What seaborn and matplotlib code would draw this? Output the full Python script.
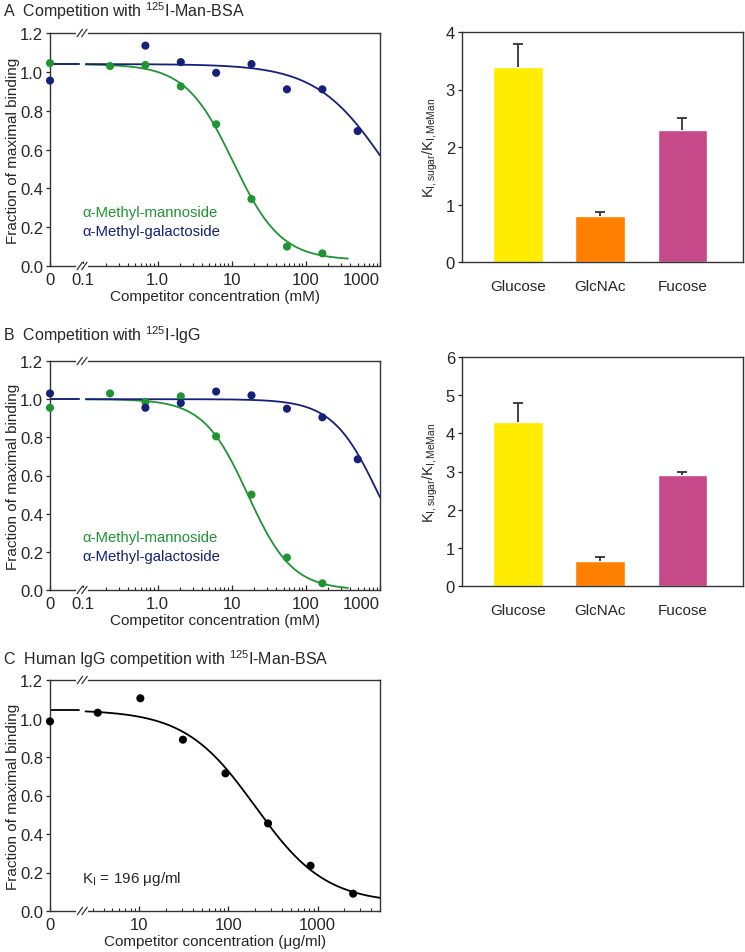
import numpy as np
import matplotlib
matplotlib.use("Agg")
from matplotlib import pyplot as plt
from matplotlib.ticker import FixedLocator, NullFormatter, FormatStrFormatter
import seaborn as sns

# ---- panels A/B, left: sugar competition (mM, 3-fold dilutions, 0 = none)
a_man_x = [0, 0.229, 0.686, 2.06, 6.17, 18.5, 55.6, 167]
a_man_y = [1.045, 1.03, 1.035, 0.925, 0.73, 0.345, 0.10, 0.065]
a_gal_x = [0, 0.686, 2.06, 6.17, 18.5, 55.6, 167, 500]
a_gal_y = [0.955, 1.135, 1.05, 0.995, 1.04, 0.91, 0.91, 0.695]

b_man_x = [0, 0.229, 0.686, 2.06, 6.17, 18.5, 55.6, 167]
b_man_y = [0.955, 1.03, 0.985, 1.015, 0.805, 0.50, 0.17, 0.035]
b_gal_x = [0, 0.686, 2.06, 6.17, 18.5, 55.6, 167, 500]
b_gal_y = [1.03, 0.955, 0.98, 1.04, 1.02, 0.95, 0.905, 0.685]

# fitted curves: top, bottom, IC50, hill, x end
a_man_fit = (1.04, 0.03, 10.5, 1.35, 370)
a_gal_fit = (1.04, 0.0, 1230, 0.92, 1000)
b_man_fit = (1.0, 0.0, 16.5, 1.45, 370)
b_gal_fit = (1.0, 0.0, 960, 1.4, 1000)

# ---- panels A/B, right: KI ratios
sugars = ["Glucose", "GlcNAc", "Fucose"]
a_ratio = [3.4, 0.8, 2.3]
a_err = [0.4, 0.07, 0.2]
b_ratio = [4.3, 0.65, 2.9]
b_err = [0.5, 0.1, 0.1]
bar_colors = ["#FFEC00", "#FF7F00", "#C54A87"]

# ---- panel C: human IgG (ug/ml)
c_x = [0, 3.43, 10.3, 30.9, 92.6, 278, 833, 2500]
c_y = [0.985, 1.03, 1.105, 0.89, 0.715, 0.455, 0.235, 0.09]
c_fit = (1.045, 0.04, 200, 1.1, 5000)

GREEN = "#1E9433"
NAVY = "#15207A"
DARK = "#333333"

sns.set_style("ticks")
plt.rcParams["font.family"] = ["Liberation Sans", "DejaVu Sans"]
plt.rcParams["mathtext.fontset"] = "custom"
plt.rcParams["mathtext.rm"] = "Liberation Sans"
plt.rcParams["mathtext.it"] = "Liberation Sans:italic"
plt.rcParams["font.size"] = 11
plt.rcParams["axes.edgecolor"] = DARK
plt.rcParams["axes.linewidth"] = 1.0


def zero_scale(zero_pos):
    def fwd(x):
        x = np.asarray(x, dtype=float)
        return np.log10(np.maximum(x, 10.0 ** zero_pos))

    def inv(y):
        return 10.0 ** np.asarray(y, dtype=float)
    return fwd, inv


def logistic(x, fit):
    top, bottom, ic50, hill, _ = fit
    return bottom + (top - bottom) / (1 + (x / ic50) ** hill)


def axis_break(ax, xb):
    xa = ax.transAxes.inverted().transform(ax.transData.transform((xb, 0.5)))[0]
    for y0 in (0, 1):
        ax.plot([xa - 0.012, xa + 0.012], [y0, y0], transform=ax.transAxes,
                color="white", lw=3, clip_on=False, zorder=5)
        for dx in (-0.007, 0.007):
            ax.plot([xa + dx - 0.008, xa + dx + 0.008], [y0 - 0.016, y0 + 0.016],
                    transform=ax.transAxes, color=DARK, lw=0.9,
                    clip_on=False, zorder=6)


def dose_panel(ax, series, zero_pos, xmax, ticks, ticklabels, minors,
               plateau_end, curve_start, xb, xlabel, last_right=False):
    ax.set_xscale("function", functions=zero_scale(zero_pos))
    ax.set_xlim(0, xmax)
    ax.set_ylim(0, 1.2)
    for xs, ys, fit, col in series:
        top = fit[0]
        sns.lineplot(x=[0, plateau_end], y=[top, top], color=col, lw=1.3,
                     ax=ax, estimator=None)
        xc = np.logspace(np.log10(curve_start), np.log10(fit[4]), 200)
        sns.lineplot(x=xc, y=logistic(xc, fit), color=col, lw=1.3, ax=ax,
                     estimator=None, sort=False)
        sns.scatterplot(x=xs, y=ys, color=col, s=34, edgecolor="none",
                        ax=ax, clip_on=False, zorder=7)
    ax.xaxis.set_major_locator(FixedLocator(ticks))
    ax.set_xticklabels(ticklabels)
    if last_right:
        ax.get_xticklabels()[-1].set_horizontalalignment("right")
    ax.xaxis.set_minor_locator(FixedLocator(minors))
    ax.xaxis.set_minor_formatter(NullFormatter())
    ax.set_yticks(np.arange(0, 1.21, 0.2))
    ax.yaxis.set_major_formatter(FormatStrFormatter("%.1f"))
    ax.tick_params(axis="x", which="major", direction="in", length=3.5,
                   width=0.9, pad=4)
    ax.tick_params(axis="x", which="minor", direction="in", length=2.5,
                   width=0.8)
    ax.tick_params(axis="y", direction="out", length=3, width=0.9, pad=2)
    ax.tick_params(labelsize=12)
    ax.set_xlabel(xlabel, fontsize=11, labelpad=2)
    ax.set_ylabel("Fraction of maximal binding", fontsize=11, labelpad=0)
    axis_break(ax, xb)


def bar_panel(ax, ratio, err, ymax):
    sns.barplot(x=sugars, y=ratio, hue=sugars, palette=bar_colors,
                legend=False, width=0.6, ax=ax, saturation=1)
    pos = np.arange(len(sugars))
    tops = np.array(ratio) + np.array(err)
    ax.vlines(pos, ratio, tops, color=DARK, lw=1.3, zorder=3)
    ax.hlines(tops, pos - 0.06, pos + 0.06, color=DARK, lw=1.3, zorder=3)
    ax.set_xlim(-0.68, 2.74)
    ax.set_ylim(0, ymax)
    ax.set_yticks(range(0, ymax + 1))
    ax.tick_params(axis="x", length=0, pad=12)
    ax.tick_params(axis="y", direction="out", length=3, width=0.9, pad=2)
    ax.tick_params(axis="y", labelsize=12)
    ax.tick_params(axis="x", labelsize=11)
    ax.set_xlabel("")
    ax.set_ylabel(r"K$_{\mathrm{I,sugar}}$/K$_{\mathrm{I,MeMan}}$",
                  fontsize=10.5, labelpad=4)


fig = plt.figure(figsize=(7.45, 9.53), dpi=100)
W, H = 745.0, 953.0


def add_axes(x0, y0, x1, y1):
    return fig.add_axes([x0 / W, 1 - y1 / H, (x1 - x0) / W, (y1 - y0) / H])


mm_ticks = [0, 0.1, 1, 10, 100, 1000]
mm_labels = ["0", "0.1", "1.0", "10", "100", "1000"]
mm_minor = [m * d for d in (0.1, 1, 10, 100) for m in range(2, 10)]

axA = add_axes(50, 34, 380, 267)
dose_panel(axA, [(a_man_x, a_man_y, a_man_fit, GREEN),
                 (a_gal_x, a_gal_y, a_gal_fit, NAVY)],
           -1.45, 1000, mm_ticks, mm_labels, mm_minor, 0.087, 0.108, 0.096,
           "Competitor concentration (mM)", last_right=True)
axA.text(0.097, 0.28, "α-Methyl-mannoside", color=GREEN, fontsize=10.7,
         transform=axA.get_yaxis_transform(), va="center")
axA.text(0.097, 0.178, "α-Methyl-galactoside", color=NAVY, fontsize=10.7,
         transform=axA.get_yaxis_transform(), va="center")

axB = add_axes(50, 362, 380, 591)
dose_panel(axB, [(b_man_x, b_man_y, b_man_fit, GREEN),
                 (b_gal_x, b_gal_y, b_gal_fit, NAVY)],
           -1.45, 1000, mm_ticks, mm_labels, mm_minor, 0.087, 0.108, 0.096,
           "Competitor concentration (mM)", last_right=True)
axB.text(0.097, 0.28, "α-Methyl-mannoside", color=GREEN, fontsize=10.7,
         transform=axB.get_yaxis_transform(), va="center")
axB.text(0.097, 0.176, "α-Methyl-galactoside", color=NAVY, fontsize=10.7,
         transform=axB.get_yaxis_transform(), va="center")

axA2 = add_axes(462, 33, 743, 263)
bar_panel(axA2, a_ratio, a_err, 4)
axB2 = add_axes(462, 358, 743, 587)
bar_panel(axB2, b_ratio, b_err, 6)

ug_ticks = [0, 10, 100, 1000]
ug_labels = ["0", "10", "100", "1000"]
ug_minor = [m * d for d in (1, 10, 100, 1000) for m in range(2, 10)
            if 2.5 < m * d <= 5000]
axC = add_axes(50, 681, 380, 912)
dose_panel(axC, [(c_x, c_y, c_fit, "black")],
           0.0, 5000, ug_ticks, ug_labels, ug_minor, 2.14, 2.5, 2.3,
           "Competitor concentration (μg/ml)")
axC.text(0.097, 0.17, r"K$_{\mathrm{I}}$ = 196 μg/ml", fontsize=11,
         transform=axC.get_yaxis_transform(), va="center")

fig.text(0.004, 1 - 11 / H, r"A  Competition with $^{125}$I-Man-BSA",
         fontsize=11.5, va="center")
fig.text(0.004, 1 - 335 / H, r"B  Competition with $^{125}$I-IgG",
         fontsize=11.5, va="center")
fig.text(0.004, 1 - 659 / H, r"C  Human IgG competition with $^{125}$I-Man-BSA",
         fontsize=11.5, va="center")

fig.savefig("out.png", dpi=100)
